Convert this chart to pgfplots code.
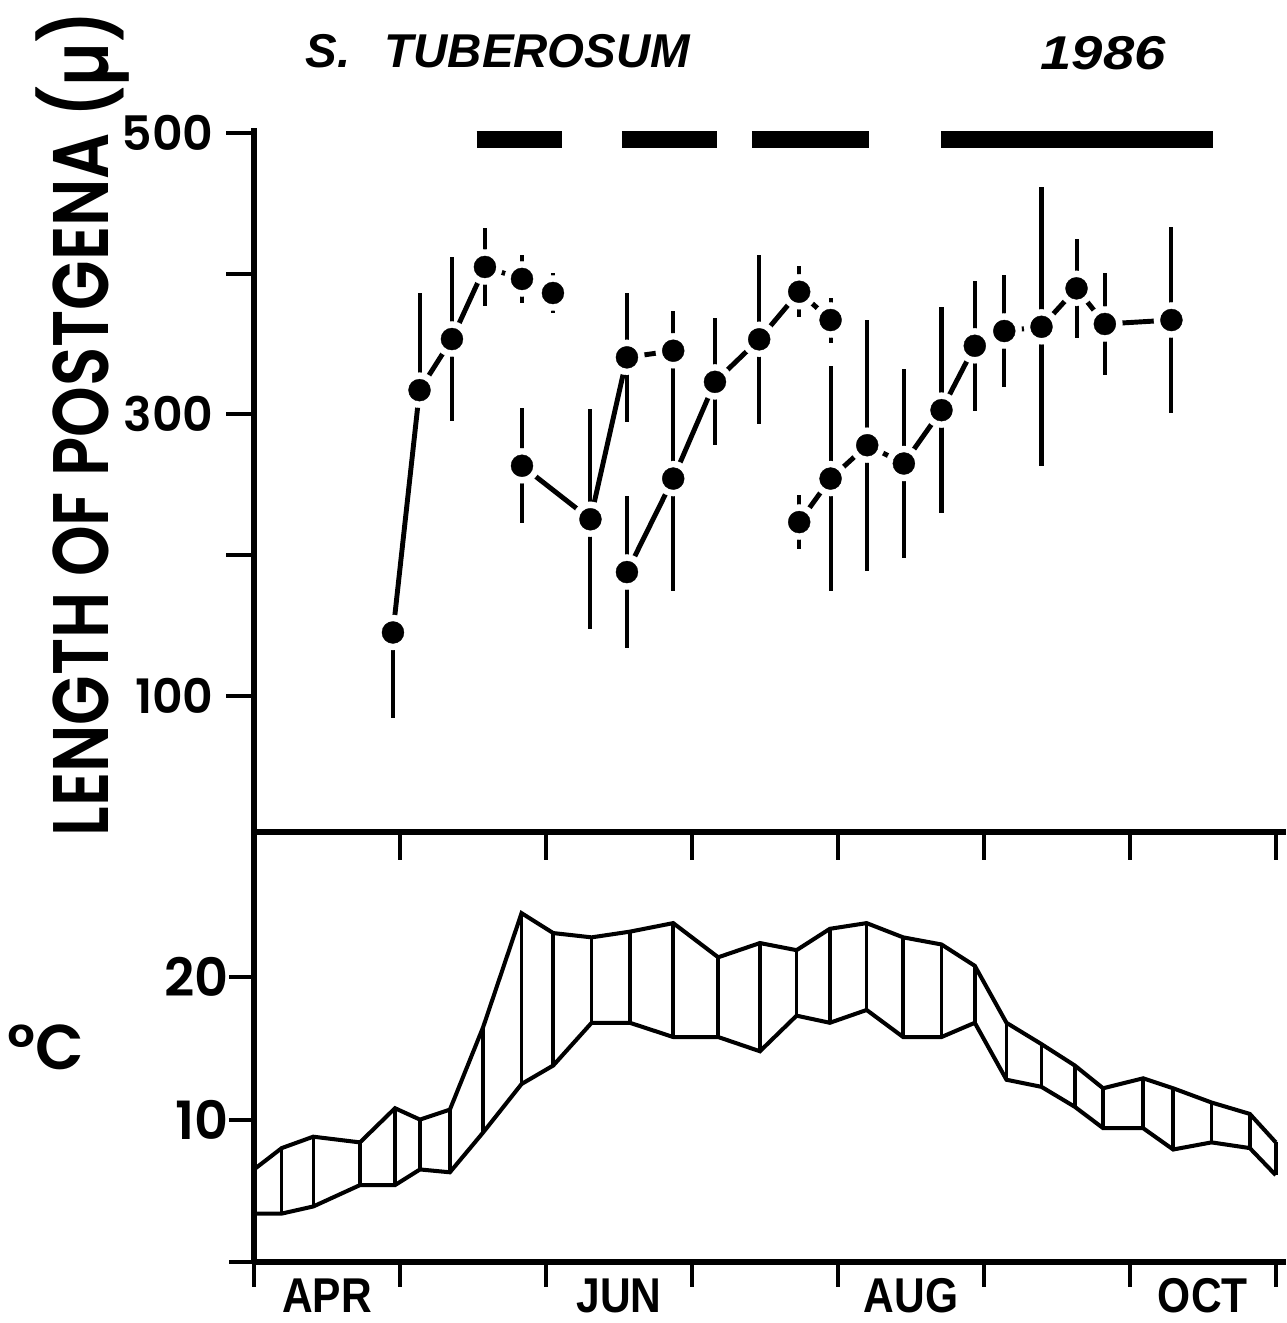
\documentclass[border=0pt]{standalone}
\usepackage{pgfplots}
\pgfplotsset{compat=1.18}
\usepackage{pgfplotstable}
\usepackage{graphicx}
\usepackage{fontspec}
\setmainfont{Liberation Sans}
\newfontfamily\geo{Poppins SemiBold}

% top panel series: x (months from 1 Apr), y (length), error plus, error minus
\pgfplotstableread{
x y ep em
0.952 145.1 0 61
1.134 317.2 69 0
1.356 353.5 58 58
1.582 404.7 28 28
1.836 396.2 17 17
2.048 386.2 14 14
}\tA
\pgfplotstableread{
x y ep em
1.836 263.5 41 41
2.305 225.5 78 78
2.555 340.5 46 46
2.872 345.2 28 28
}\tB
\pgfplotstableread{
x y ep em
2.555 188.0 54 54
2.872 254.4 80 80
3.158 323.1 45 45
3.461 353.3 60 60
3.735 387.1 18 18
3.950 367.0 16 16
}\tC
\pgfplotstableread{
x y ep em
3.735 223.5 19 19
3.950 254.4 80 80
4.201 278.1 89 89
4.452 265.1 67 67
4.710 303.0 73 73
4.938 348.7 46 46
5.140 359.2 40 40
5.395 362.2 99 99
5.635 389.5 35 35
5.829 364.2 36 36
6.285 367.0 66 66
}\tD
% temperature: x, max, min, max-min
\pgfplotstableread{
x hi lo d
0.000 6.5 3.4 3.1
0.190 8.0 3.4 4.6
0.406 8.8 3.9 4.9
0.726 8.4 5.4 3.0
0.966 10.8 5.4 5.4
1.137 10.0 6.5 3.5
1.342 10.7 6.3 4.4
1.570 16.5 9.1 7.4
1.833 24.5 12.5 12.0
2.050 23.1 13.8 9.3
2.313 22.8 16.8 6.0
2.575 23.2 16.8 6.4
2.872 23.8 15.8 8.0
3.180 21.4 15.8 5.6
3.466 22.4 14.8 7.6
3.717 21.9 17.3 4.6
3.945 23.4 16.8 6.6
4.197 23.8 17.7 6.1
4.447 22.8 15.8 7.0
4.710 22.3 15.8 6.5
4.938 20.8 16.8 4.0
5.155 16.8 12.8 4.0
5.395 15.3 12.3 3.0
5.623 13.8 10.9 2.9
5.817 12.2 9.4 2.8
6.091 12.9 9.4 3.5
6.297 12.2 7.9 4.3
6.560 11.2 8.4 2.8
6.822 10.4 8.0 2.4
7.000 8.4 6.1 2.3
}\tT

\pgfplotsset{
  ser/.style={black, line width=1.4pt, error bars/.cd, y dir=both, y explicit,
    error mark=none, error bar style={line width=1.15pt, black}},
  halo/.style={only marks, mark=*, mark size=1.75mm, mark options={fill=white, draw=white, line width=0.1pt}},
  dot/.style={only marks, mark=*, mark size=1.1mm, mark options={fill=black, draw=black, line width=0.1pt}},
}

\begin{document}
\begin{tikzpicture}
\useasboundingbox (0,0) rectangle (128.6mm,132.3mm);

\begin{axis}[
  at={(25.4mm,49.1mm)}, anchor=south west,
  scale only axis, width=103.2mm, height=70.4mm,
  xmin=0, xmax=7.07, ymin=3.4, ymax=503.4,
  axis x line=bottom, axis y line=left,
  axis line style={-, line width=1.7pt},
  tick align=outside, major tick length=2.8mm,
  major tick style={line width=1.1pt, black},
  xtick={0,1,2,3,4,5,6,7}, xticklabels={},
  ytick={100,200,300,400,500}, yticklabels={100,,300,,500},
  yticklabel style={font=\geo\fontsize{13.5}{15}\selectfont},
  clip=false,
]
\addplot[ser] table[x=x,y=y,y error plus=ep,y error minus=em]{\tA};
\addplot[ser] table[x=x,y=y,y error plus=ep,y error minus=em]{\tB};
\addplot[ser] table[x=x,y=y,y error plus=ep,y error minus=em]{\tC};
\addplot[ser] table[x=x,y=y,y error plus=ep,y error minus=em]{\tD};
\addplot[halo] table[x=x,y=y]{\tA};
\addplot[halo] table[x=x,y=y]{\tB};
\addplot[halo] table[x=x,y=y]{\tC};
\addplot[halo] table[x=x,y=y]{\tD};
\addplot[dot] table[x=x,y=y]{\tA};
\addplot[dot] table[x=x,y=y]{\tB};
\addplot[dot] table[x=x,y=y]{\tC};
\addplot[dot] table[x=x,y=y]{\tD};
% black bars at the top
\addplot[black, line width=1.67mm] coordinates {(1.525,495) (2.110,495)};
\addplot[black, line width=1.67mm] coordinates {(2.521,495) (3.171,495)};
\addplot[black, line width=1.67mm] coordinates {(3.411,495) (4.212,495)};
\addplot[black, line width=1.67mm] coordinates {(4.705,495) (6.568,495)};
\end{axis}

\begin{axis}[
  at={(25.4mm,6.1mm)}, anchor=south west,
  scale only axis, width=103.2mm, height=43mm,
  xmin=0, xmax=7.07, ymin=0, ymax=30.2,
  axis x line=bottom, axis y line=left,
  axis line style={-, line width=1.7pt},
  tick align=outside, major tick length=2.5mm,
  major tick style={line width=1.1pt, black},
  xtick={0,1,2,3,4,5,6,7}, xticklabels={},
  extra x ticks={0.5,2.5,4.5,6.5},
  extra x tick labels={\scalebox{0.87}[1]{APR},\scalebox{0.87}[1]{JUN},\scalebox{0.87}[1]{AUG},\scalebox{0.87}[1]{OCT}},
  extra x tick style={major tick length=0pt,
    xticklabel style={font=\bfseries\fontsize{13.9}{15}\selectfont, yshift=-0.4mm}},
  ytick={0,10,20}, yticklabels={,10,20},
  yticklabel style={font=\geo\fontsize{15}{17}\selectfont, xshift=1.2mm},
  clip=false,
]
\addplot[black, line width=1.15pt, error bars/.cd, y dir=minus, y explicit,
  error mark=none, error bar style={line width=1.0pt, black}]
  table[x=x,y=hi,y error minus=d]{\tT};
\addplot[black, line width=1.15pt] table[x=x,y=lo]{\tT};
\end{axis}

% axis titles and headings
\node[rotate=90, anchor=base] at (10.8mm,89.9mm)
  {\resizebox{82.5mm}{\height}{\geo\fontsize{22.4}{24}\selectfont LENGTH OF POSTGENA (µ)}};
\node[anchor=center] at (4.6mm,27.6mm) {\geo\fontsize{18}{20}\selectfont °C};
\node[anchor=base west, inner sep=0pt] at (30.5mm,125.5mm)
  {\bfseries\itshape\fontsize{13.5}{15}\selectfont S.\hspace{3.4mm}TUBEROSUM};
\node[anchor=base west, inner sep=0pt] at (104.0mm,125.3mm)
  {\resizebox{12.5mm}{\height}{\bfseries\itshape\fontsize{13.5}{15}\selectfont 1986}};
\end{tikzpicture}
\end{document}
